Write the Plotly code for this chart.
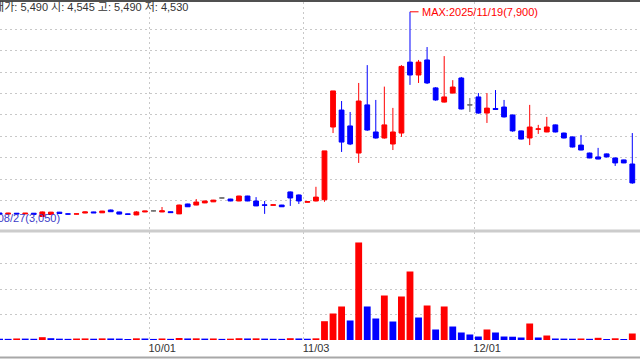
import plotly.graph_objects as go

# ---------------- data ----------------
dates = [
    "09/05", "09/08", "09/09", "09/10", "09/11", "09/12", "09/15", "09/16", "09/17", "09/18",
    "09/19", "09/22", "09/23", "09/24", "09/25", "09/26", "09/29", "09/30", "10/01", "10/02",
    "10/10", "10/13", "10/14", "10/15", "10/16", "10/17", "10/20", "10/21", "10/22", "10/23",
    "10/24", "10/27", "10/28", "10/29", "10/30", "10/31", "11/03", "11/04", "11/05", "11/06",
    "11/07", "11/10", "11/11", "11/12", "11/13", "11/14", "11/17", "11/18", "11/19", "11/20",
    "11/21", "11/24", "11/25", "11/26", "11/27", "11/28", "12/01", "12/02", "12/03", "12/04",
    "12/05", "12/08", "12/09", "12/10", "12/11", "12/12", "12/15", "12/16", "12/17", "12/18",
    "12/19", "12/22", "12/23", "12/24", "12/26",
]
opens = [
    3220, 3195, 3215, 3200, 3215, 3140, 3185, 3240, 3200, 3195,
    3220, 3245, 3225, 3290, 3245, 3200, 3175, 3245, 3270, 3245,
    3250, 3200, 3430, 3405, 3455, 3480, 3570, 3545, 3500, 3615,
    3500, 3410, 3400, 3405, 3710, 3640, 3470, 3500, 3530, 5220,
    5615, 5245, 4615, 5735, 5105, 4965, 4825, 5080, 6730, 6430,
    6780, 6130, 5800, 6010, 6360, 5735, 5920, 5545, 5650, 5685,
    5500, 5130, 4965, 5170, 5105, 5270, 5080, 4990, 4800, 4615,
    4525, 4595, 4500, 4455, 4360,
]
highs = [
    3230, 3225, 3220, 3220, 3220, 3255, 3245, 3245, 3210, 3205,
    3255, 3250, 3270, 3300, 3250, 3205, 3265, 3270, 3280, 3360,
    3255, 3415, 3435, 3545, 3505, 3525, 3580, 3550, 3620, 3620,
    3590, 3500, 3415, 3410, 3720, 3650, 3490, 3830, 4665, 6060,
    5825, 5570, 6245, 6660, 5850, 6160, 5665, 6660, 7900, 6780,
    7080, 6150, 6870, 6310, 6385, 5895, 6010, 6010, 6080, 5850,
    5510, 5140, 5735, 5270, 5455, 5280, 5090, 5000, 5035, 4625,
    4735, 4605, 4510, 4460, 5080,
]
lows = [
    3185, 3190, 3190, 3195, 3180, 3130, 3180, 3200, 3185, 3190,
    3215, 3220, 3220, 3245, 3190, 3185, 3170, 3240, 3260, 3240,
    3225, 3195, 3360, 3400, 3450, 3475, 3560, 3495, 3495, 3495,
    3380, 3200, 3395, 3360, 3385, 3430, 3465, 3490, 3480, 5080,
    4640, 4800, 4385, 5130, 4950, 4950, 4685, 4990, 6200, 6245,
    6220, 5830, 5790, 6000, 5630, 5570, 5530, 5315, 5620, 5440,
    5110, 4930, 4800, 5060, 5100, 5095, 4955, 4745, 4680, 4495,
    4470, 4515, 4315, 4380, 3900,
]
closes = [
    3195, 3215, 3200, 3215, 3190, 3245, 3240, 3210, 3195, 3200,
    3245, 3225, 3265, 3250, 3195, 3190, 3245, 3265, 3270, 3270,
    3230, 3405, 3365, 3475, 3500, 3520, 3570, 3500, 3615, 3500,
    3385, 3400, 3410, 3365, 3570, 3500, 3485, 3590, 4665, 6060,
    4870, 4825, 5825, 5150, 4965, 5270, 5105, 6630, 6430, 6730,
    6245, 5850, 5920, 6150, 5640, 5735, 5545, 5660, 5630, 5455,
    5130, 4940, 5220, 5175, 5220, 5105, 4965, 4755, 4685, 4500,
    4475, 4525, 4385, 4385, 3920,
]
volumes = [
    50000, 45000, 60000, 55000, 48000, 110000, 70000, 52000, 45000, 58000,
    62000, 50000, 64000, 60000, 55000, 40000, 66000, 58000, 42000, 60000,
    45000, 78000, 60000, 65000, 55000, 60000, 44000, 52000, 70000, 60000,
    65000, 55000, 48000, 45000, 70000, 60000, 50000, 65000, 737000, 1039000,
    1314000, 765000, 3824000, 1314000, 843000, 1745000, 725000, 1706000, 2686000, 882000,
    1353000, 412000, 1314000, 529000, 294000, 216000, 137000, 412000, 294000, 137000,
    129000, 98000, 647000, 98000, 176000, 59000, 55000, 51000, 59000, 47000,
    86000, 39000, 67000, 39000, 255000,
]
tick_labels = ["10/01", "11/03", "12/01"]
price_grid = [3500, 4000, 4500, 5000, 5500, 6000, 6500, 7000, 7500]
volume_grid = [1000000, 2000000, 3000000]
header_text = "현재가: 5,490 시: 4,545 고: 5,490 저: 4,530"
max_date_label = "2025/11/19"
min_label = "MIN:2025/08/27(3,050)"

# ---------------- styles ----------------
RED = "#ff0000"
BLUE = "#0000ff"
DOJI = "#707070"
GRID = "#c8c8c8"
DASH = "2px,3px"
FONT = "Liberation Sans, Arial, Noto Sans CJK KR, sans-serif"

idx = list(range(len(dates)))


def candle(sel, color):
    return go.Candlestick(
        x=sel,
        open=[opens[i] for i in sel],
        high=[highs[i] for i in sel],
        low=[lows[i] for i in sel],
        close=[closes[i] for i in sel],
        increasing=dict(line=dict(color=color, width=1), fillcolor=color),
        decreasing=dict(line=dict(color=color, width=1), fillcolor=color),
        whiskerwidth=0,
        hoverinfo="skip",
        showlegend=False,
        xaxis="x",
        yaxis="y",
    )


up = [i for i in idx if closes[i] > opens[i]]
dn = [i for i in idx if closes[i] < opens[i]]
dj = [i for i in idx if closes[i] == opens[i]]

vol_colors = [BLUE] + [RED if volumes[i] > volumes[i - 1] else BLUE for i in idx[1:]]

fig = go.Figure()
fig.add_trace(candle(up, RED))
fig.add_trace(candle(dn, BLUE))
fig.add_trace(candle(dj, DOJI))
fig.add_trace(go.Bar(
    x=idx, y=volumes, marker=dict(color=vol_colors, line=dict(width=0)),
    width=0.8, hoverinfo="skip", showlegend=False, xaxis="x2", yaxis="y2",
))

tickvals = [dates.index(t) - 0.5 for t in tick_labels]
imax = max(idx, key=lambda i: highs[i])

axis_common = dict(showline=False, zeroline=False, ticks="", fixedrange=True)
grid_common = dict(showgrid=True, gridcolor=GRID, griddash=DASH, gridwidth=1)

fig.update_layout(
    width=640, height=360, autosize=False,
    margin=dict(l=0, r=0, t=0, b=20),
    paper_bgcolor="white", plot_bgcolor="white",
    boxgap=0.2,
    hovermode=False,
    font=dict(family=FONT, size=11, color="#333333"),
    xaxis=dict(domain=[0, 1], range=[0.05, 74.9], anchor="y",
               tickvals=tickvals, showticklabels=False,
               rangeslider=dict(visible=False), **grid_common, **axis_common),
    xaxis2=dict(domain=[0, 1], matches="x", anchor="y2",
                tickvals=tickvals, ticktext=tick_labels, showticklabels=True,
                ticklabelshift=13, tickfont=dict(size=11, color="#333333"),
                **grid_common, **axis_common),
    yaxis=dict(domain=[(340 - 230) / 340, 1 - 2 / 340], range=[2825, 8128],
               tickvals=price_grid, showticklabels=False,
               **grid_common, **axis_common),
    yaxis2=dict(domain=[0, (340 - 232) / 340], range=[0, 4235000],
                tickvals=volume_grid, showticklabels=False,
                **grid_common, **axis_common),
)

# frame lines
fig.add_shape(type="line", xref="paper", yref="paper", x0=0, x1=1,
              y0=1 - 1 / 340, y1=1 - 1 / 340, line=dict(color="#505050", width=2))
fig.add_shape(type="line", xref="paper", yref="paper", x0=0, x1=1,
              y0=(340 - 231) / 340, y1=(340 - 231) / 340, line=dict(color="#cccccc", width=3))
fig.add_shape(type="line", xref="paper", yref="paper", x0=0, x1=1,
              y0=(340 - 357.5) / 340, y1=(340 - 357.5) / 340, line=dict(color="#a8a8a8", width=2))

# max marker
fig.add_shape(type="line", xref="x", yref="y", x0=imax, x1=imax + 1,
              y0=highs[imax], y1=highs[imax], line=dict(color=RED, width=1))
fig.add_annotation(x=imax, y=highs[imax], xref="x", yref="y",
                   text=f"MAX:{max_date_label}({highs[imax]:,})",
                   showarrow=False, xanchor="left", yanchor="middle", xshift=10,
                   font=dict(color=RED, size=11, family=FONT))

# min label (the min date lies off-screen to the left, as in the reference)
fig.add_annotation(x=62 / 640, y=(340 - 218) / 340, xref="paper", yref="paper",
                   text=min_label, showarrow=False, xanchor="right", yanchor="middle",
                   font=dict(color="#3c3cc8", size=11, family=FONT))

# header (partly cut at the left edge, as in the reference)
fig.add_annotation(x=190 / 640, y=1 - 7 / 340, xref="paper", yref="paper",
                   text=header_text, showarrow=False, xanchor="right", yanchor="middle",
                   font=dict(color="#333333", size=11, family=FONT))

fig.write_html("out.html", config={"displayModeBar": False, "staticPlot": True})
